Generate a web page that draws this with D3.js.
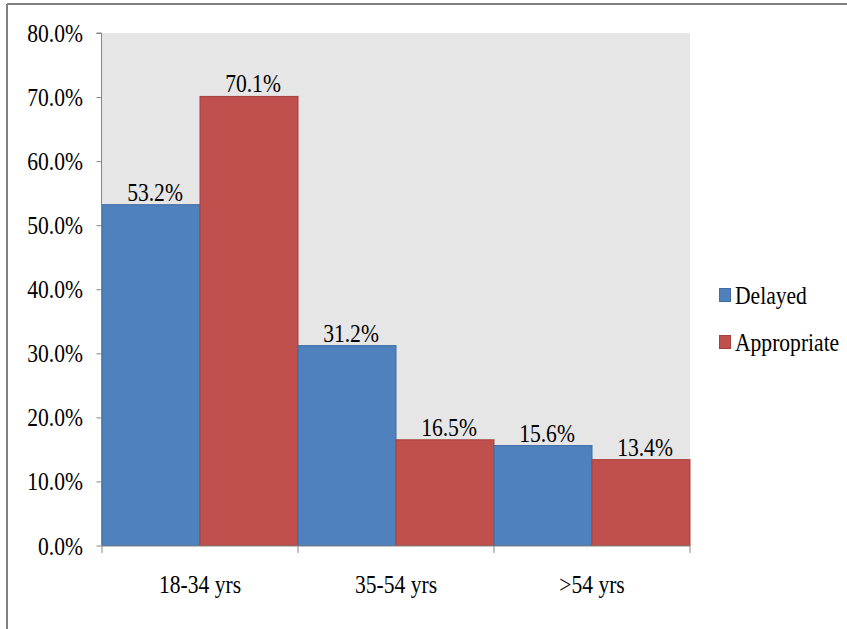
<!DOCTYPE html>
<html>
<head>
<meta charset="utf-8">
<script src="https://cdn.jsdelivr.net/npm/d3@7"></script>
<style>
  html, body { margin: 0; padding: 0; background: #fff; }
  svg { display: block; }
</style>
</head>
<body>
<script>
// Age groups and the share of patients in each group
const categories = ["18-34 yrs", "35-54 yrs", ">54 yrs"];
const seriesNames = ["Delayed", "Appropriate"];
const delayed = [53.2, 31.2, 15.6];
const appropriate = [70.1, 16.5, 13.4];
const yTicks = [0, 10, 20, 30, 40, 50, 60, 70, 80];
const colors = ["#4F81BD", "#C0504D"];
const strokes = ["#3F6DA3", "#A6403D"];

const W = 847, H = 629;
const plot = { left: 102, right: 690, top: 33, bottom: 545.5 };
const FONT = "'Liberation Serif', 'Times New Roman', serif";
const FS = 26, SX = 0.83; // condensed serif labels

const svg = d3.select("body").append("svg").attr("width", W).attr("height", H);

// frame lines
svg.append("line").attr("x1", 7).attr("x2", W).attr("y1", 4).attr("y2", 4)
  .attr("stroke", "#808080").attr("stroke-width", 2);
svg.append("line").attr("x1", 7).attr("x2", 7).attr("y1", 4).attr("y2", H)
  .attr("stroke", "#808080").attr("stroke-width", 2);

const x0 = d3.scaleBand().domain(categories).range([plot.left, plot.right]).padding(0);
const x1 = d3.scaleBand().domain(seriesNames).range([0, x0.bandwidth()]).padding(0);
const y = d3.scaleLinear().domain([0, 80]).range([plot.bottom, plot.top]);

// plot background
svg.append("rect")
  .attr("x", plot.left).attr("y", plot.top)
  .attr("width", plot.right - plot.left).attr("height", plot.bottom - plot.top)
  .attr("fill", "#E6E6E6");

function label(sel, x, yy, anchor) {
  sel.attr("text-anchor", anchor)
    .attr("transform", `translate(${x},${yy}) scale(${SX},1)`)
    .attr("x", 0).attr("y", 0)
    .style("font-family", FONT)
    .style("font-size", FS + "px")
    .attr("fill", "#000");
}

const data = categories.map((c, i) => ({ cat: c, values: [delayed[i], appropriate[i]] }));

const groups = svg.append("g").selectAll("g").data(data).join("g")
  .attr("transform", d => `translate(${x0(d.cat)},0)`);

groups.selectAll("rect").data(d => d.values.map((v, k) => ({ v, k })))
  .join("rect")
  .attr("x", d => x1(seriesNames[d.k]))
  .attr("y", d => y(d.v))
  .attr("width", x1.bandwidth())
  .attr("height", d => y(0) - y(d.v))
  .attr("fill", d => colors[d.k])
  .attr("stroke", d => strokes[d.k])
  .attr("stroke-width", 1);

groups.selectAll("text").data(d => d.values.map((v, k) => ({ v, k })))
  .join("text")
  .text(d => d.v.toFixed(1) + "%")
  .each(function (d) {
    label(d3.select(this), x1(seriesNames[d.k]) + x1.bandwidth() / 2 + 4, y(d.v) - 4, "middle");
  });

// y axis
const yAxis = svg.append("g").attr("transform", `translate(${plot.left - 0.5},0)`)
  .call(d3.axisLeft(y).tickValues(yTicks).tickSize(5).tickFormat(d => d.toFixed(1) + "%"));
yAxis.select(".domain").attr("stroke", "#868686").attr("d", `M-5,${y(80)}H0V${y(0)}`);
yAxis.selectAll(".tick line").attr("stroke", "#868686");
yAxis.selectAll(".tick text").attr("dy", null).each(function () {
  label(d3.select(this), -18.5, 8.5, "end");
});

// x axis
const xAxis = svg.append("g").attr("transform", `translate(0,${plot.bottom + 0.5})`);
xAxis.append("line").attr("x1", plot.left).attr("x2", plot.right)
  .attr("stroke", "#868686");
const tickXs = categories.map(d => x0(d)).concat([plot.right]);
xAxis.selectAll(".xt").data(tickXs).join("line")
  .attr("class", "xt")
  .attr("x1", d => d).attr("x2", d => d)
  .attr("y1", 0).attr("y2", 7)
  .attr("stroke", "#868686");
xAxis.selectAll("text").data(categories).join("text")
  .text(d => d)
  .each(function (d) {
    label(d3.select(this), x0(d) + x0.bandwidth() / 2, 47, "middle");
  });

// legend
const legend = svg.append("g").attr("transform", "translate(719,286)");
seriesNames.forEach((s, i) => {
  const g = legend.append("g").attr("transform", `translate(0,${i * 47})`);
  g.append("rect").attr("x", 0.5).attr("y", 2.5).attr("width", 11).attr("height", 13)
    .attr("fill", colors[i]).attr("stroke", strokes[i]);
  const t = g.append("text").text(s);
  label(t, 16, 18, "start");
});
</script>
</body>
</html>
